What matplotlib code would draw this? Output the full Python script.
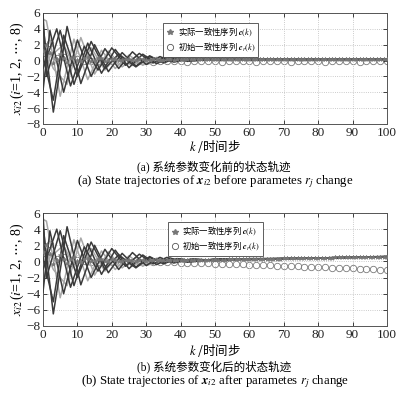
import matplotlib
matplotlib.use("Agg")
import matplotlib.pyplot as plt
from matplotlib.lines import Line2D
from matplotlib.font_manager import FontProperties

plt.rcParams['font.family'] = ['Liberation Serif', 'Noto Sans CJK SC']
plt.rcParams['mathtext.fontset'] = 'stix'

# ---------------- data ----------------
# early (k <= 44) turning-point vertices of the 8 agent trajectories (shared by a and b)
agent_k = [
    [0, 3, 7, 11, 15, 19, 23, 27, 31, 35, 39, 44],
    [0, 2, 6, 10, 14, 18, 22, 26, 30, 34, 38, 43],
    [0, 1, 5, 9, 13, 17, 21, 25, 29, 33, 37, 42],
    [0, 4, 8, 12, 16, 20, 24, 28, 32, 36, 40, 44],
    [0, 3, 6, 10, 14, 18, 22, 27, 31, 35, 40, 44],
    [0, 1, 5, 9, 13, 17, 21, 25, 29, 33, 38, 43],
    [0, 3, 7, 11, 15, 19, 23, 27, 31, 36, 41, 44],
    [0, 2, 6, 10, 14, 18, 22, 26, 30, 35, 40, 44],
]
agent_y = [
    [4.5, -6.5, 4.3, -2.9, 2.0, -1.4, 1.0, -0.7, 0.6, -0.3, 0.35, 0.0],
    [-3.8, 3.8, -4.0, 2.6, -2.0, 1.5, -1.0, 1.1, -0.5, 0.5, -0.2, 0.3],
    [6.0, -2.0, 3.8, -3.0, 2.2, -1.6, 1.4, -0.9, 0.8, -0.4, 0.4, -0.1],
    [-1.0, 4.0, -3.2, 1.8, -1.2, 1.6, -0.6, 0.9, -0.3, 0.5, 0.0, 0.3],
    [0.5, -5.0, 3.2, -2.0, 2.4, -1.0, 0.8, -0.8, 0.5, -0.2, 0.3, 0.05],
    [5.2, 5.0, -4.5, 2.7, -2.4, 1.3, -1.0, 0.7, -0.6, 0.4, -0.1, 0.25],
    [2.0, -1.0, -3.0, 2.9, -1.7, 1.2, -0.8, 0.5, -0.4, 0.3, -0.1, 0.2],
    [-2.5, 0.5, 2.0, -1.6, 1.6, -1.2, 0.9, -0.6, 0.5, -0.2, 0.3, 0.05],
]
agent_dark = [True, True, True, True, True, False, False, False]

tail_k = [50, 60, 75, 90, 100]
tail_a = [
    [0.25, 0.10, 0.18, 0.13, 0.15],
    [0.05, 0.20, 0.10, 0.17, 0.15],
    [0.22, 0.12, 0.15, 0.14, 0.12],
    [0.10, 0.20, 0.12, 0.16, 0.16],
    [0.20, 0.10, 0.16, 0.13, 0.15],
    [0.05, 0.15, 0.13, 0.15, 0.12],
    [0.18, 0.10, 0.15, 0.13, 0.14],
    [0.12, 0.20, 0.10, 0.16, 0.15],
]
tail_b = [
    [0.30, 0.25, 0.40, 0.50, 0.60],
    [0.10, 0.35, 0.38, 0.52, 0.58],
    [0.28, 0.22, 0.42, 0.48, 0.60],
    [0.12, 0.32, 0.36, 0.53, 0.62],
    [0.25, 0.28, 0.41, 0.50, 0.59],
    [0.08, 0.30, 0.39, 0.51, 0.57],
    [0.22, 0.26, 0.40, 0.49, 0.60],
    [0.15, 0.30, 0.37, 0.52, 0.61],
]

# actual consensus sequence c(k), k = 0..100
c_a = [1.2, 2.0, 0.9, -0.3, 0.2, 0.8, 0.3, -0.2, 0.3, 0.5,
       0.1, -0.1, 0.3, 0.4, 0.0, 0.0, 0.3, 0.3, 0.0, 0.1,
       0.25, 0.2, 0.05, 0.1, 0.2, 0.2, 0.1, 0.1, 0.2, 0.18,
       0.1, 0.12, 0.18, 0.16, 0.12, 0.13, 0.17, 0.15, 0.13, 0.14,
       0.15, 0.16, 0.15, 0.14, 0.15, 0.16, 0.15, 0.14, 0.15, 0.15,
       0.16, 0.15, 0.14, 0.15, 0.16, 0.15, 0.15, 0.14, 0.15, 0.16,
       0.15, 0.15, 0.14, 0.15, 0.16, 0.15, 0.15, 0.14, 0.15, 0.15,
       0.16, 0.15, 0.14, 0.15, 0.15, 0.16, 0.15, 0.14, 0.15, 0.15,
       0.16, 0.15, 0.15, 0.14, 0.15, 0.16, 0.15, 0.15, 0.14, 0.15,
       0.15, 0.16, 0.15, 0.14, 0.15, 0.15, 0.16, 0.15, 0.15, 0.14, 0.15]
c_b = [1.2, 2.0, 0.9, -0.3, 0.2, 0.8, 0.3, -0.2, 0.3, 0.5,
       0.1, -0.1, 0.3, 0.4, 0.0, 0.0, 0.3, 0.3, 0.0, 0.1,
       0.25, 0.2, 0.05, 0.1, 0.2, 0.2, 0.1, 0.1, 0.2, 0.18,
       0.1, 0.12, 0.18, 0.16, 0.12, 0.13, 0.17, 0.15, 0.13, 0.14,
       0.12, 0.14, 0.13, 0.15, 0.16, 0.15, 0.18, 0.17, 0.19, 0.22,
       0.24, 0.22, 0.21, 0.23, 0.24, 0.26, 0.25, 0.27, 0.28, 0.28,
       0.29, 0.30, 0.31, 0.31, 0.32, 0.33, 0.34, 0.34, 0.35, 0.36,
       0.37, 0.38, 0.38, 0.39, 0.40, 0.41, 0.42, 0.42, 0.43, 0.44,
       0.45, 0.46, 0.46, 0.47, 0.48, 0.49, 0.50, 0.50, 0.51, 0.52,
       0.53, 0.54, 0.54, 0.55, 0.56, 0.57, 0.57, 0.58, 0.59, 0.59, 0.60]

# initial consensus sequence c_r(k), k = 0, 2, ..., 100
cr_a = [1.0, 2.2, 0.3, 0.5, -0.2, 0.2, 0.0, -0.05, -0.1, -0.05,
        -0.1, -0.08, -0.1, -0.12, -0.1, -0.1, -0.12, -0.1, -0.1, -0.11,
        -0.1, -0.12, -0.1, -0.1, -0.11, -0.1, -0.12, -0.1, -0.1, -0.11,
        -0.1, -0.12, -0.1, -0.1, -0.11, -0.1, -0.12, -0.1, -0.1, -0.11,
        -0.1, -0.12, -0.1, -0.1, -0.11, -0.1, -0.12, -0.1, -0.1, -0.11, -0.1]
cr_b = [1.0, 2.2, 0.3, 0.5, -0.2, 0.2, 0.0, -0.05, -0.1, -0.05,
        -0.1, -0.08, -0.1, -0.05, -0.05, -0.02, -0.05, -0.08, -0.1, -0.13,
        -0.15, -0.17, -0.2, -0.22, -0.25, -0.27, -0.3, -0.33, -0.35, -0.38,
        -0.4, -0.43, -0.46, -0.49, -0.52, -0.55, -0.58, -0.61, -0.64, -0.67,
        -0.7, -0.73, -0.77, -0.8, -0.84, -0.87, -0.91, -0.94, -0.98, -1.01, -1.05]

k_all = list(range(0, 101))
k_cr = list(range(0, 101, 2))

xticks = [0, 10, 20, 30, 40, 50, 60, 70, 80, 90, 100]
yticks = [-8, -6, -4, -2, 0, 2, 4, 6]

ylabel = r'$x_{i2}\,$($i$=1, 2, $\cdots$, 8)'
xlabel = r'$k$ /时间步'
cap_a_cn = '(a) 系统参数变化前的状态轨迹'
cap_a_en = r'(a) State trajectories of $\mathbfit{x}_{i2}$ before parametes $r_j$ change'
cap_b_cn = '(b) 系统参数变化后的状态轨迹'
cap_b_en = r'(b) State trajectories of $\mathbfit{x}_{i2}$ after parametes $r_j$ change'
leg_c = r'实际一致性序列 $\mathbfit{c}(k)$'
leg_cr = r'初始一致性序列 $\mathbfit{c}_r(k)$'

CJK = 'Noto Sans CJK SC'

# ---------------- figure ----------------
fig = plt.figure(figsize=(4.15, 3.93), dpi=100)
ax_a = fig.add_axes([0.1036, 0.6845, 0.829, 0.2825])
ax_b = fig.add_axes([0.1036, 0.1705, 0.829, 0.2875])

DARK = '#3a3a3a'
LIGHT = '#a8a8a8'

def draw(ax, tails, c, cr, leg_anchor):
    for i in range(8):
        ks = agent_k[i] + tail_k
        ys = agent_y[i] + tails[i]
        col = DARK if agent_dark[i] else LIGHT
        ax.plot(ks, ys, color=col, lw=1.1, zorder=3 if agent_dark[i] else 2)
    ax.plot(k_all, c, ls='none', marker='*', ms=3.2, color='#777777', mew=0.5, zorder=4)
    ax.plot(k_cr, cr, ls='none', marker='o', ms=4.6, mfc='none', mec='#7a7a7a', mew=0.6, zorder=1)
    ax.set_xlim(0, 100)
    ax.set_ylim(-8, 6)
    ax.set_xticks(xticks)
    ax.set_yticks(yticks)
    ax.tick_params(direction='in', top=True, right=True, length=3, width=0.6,
                   labelsize=9.5, colors='#222222', pad=2)
    ax.grid(True, ls=':', lw=0.6, color='#bbbbbb')
    for s in ax.spines.values():
        s.set_color('#555555')
        s.set_linewidth(0.7)
    ax.set_ylabel(ylabel, fontsize=10, labelpad=0)
    h = [Line2D([], [], ls='none', marker='*', ms=4, color='#777777'),
         Line2D([], [], ls='none', marker='o', ms=4.5, mfc='none', mec='#555555', mew=0.6)]
    leg = ax.legend(h, [leg_c, leg_cr], loc='upper left', bbox_to_anchor=leg_anchor,
                    prop=FontProperties(family=CJK, size=6), frameon=True, fancybox=False,
                    edgecolor='#444444', framealpha=1, handlelength=1.0, handletextpad=0.4,
                    borderpad=0.35, labelspacing=0.2, borderaxespad=0)
    leg.get_frame().set_linewidth(0.6)

draw(ax_a, tail_a, c_a, cr_a, (0.349, 0.91))
draw(ax_b, tail_b, c_b, cr_b, (0.363, 0.92))

fig.text(0.518, 0.626, xlabel, ha='center', va='center', fontsize=9, family=CJK)
fig.text(0.515, 0.575, cap_a_cn, ha='center', va='center', fontsize=8.3)
fig.text(0.518, 0.539, cap_a_en, ha='center', va='center', fontsize=9.2)
fig.text(0.518, 0.109, xlabel, ha='center', va='center', fontsize=9, family=CJK)
fig.text(0.515, 0.066, cap_b_cn, ha='center', va='center', fontsize=8.3)
fig.text(0.518, 0.028, cap_b_en, ha='center', va='center', fontsize=9.2)

fig.savefig('out.png', dpi=100)
